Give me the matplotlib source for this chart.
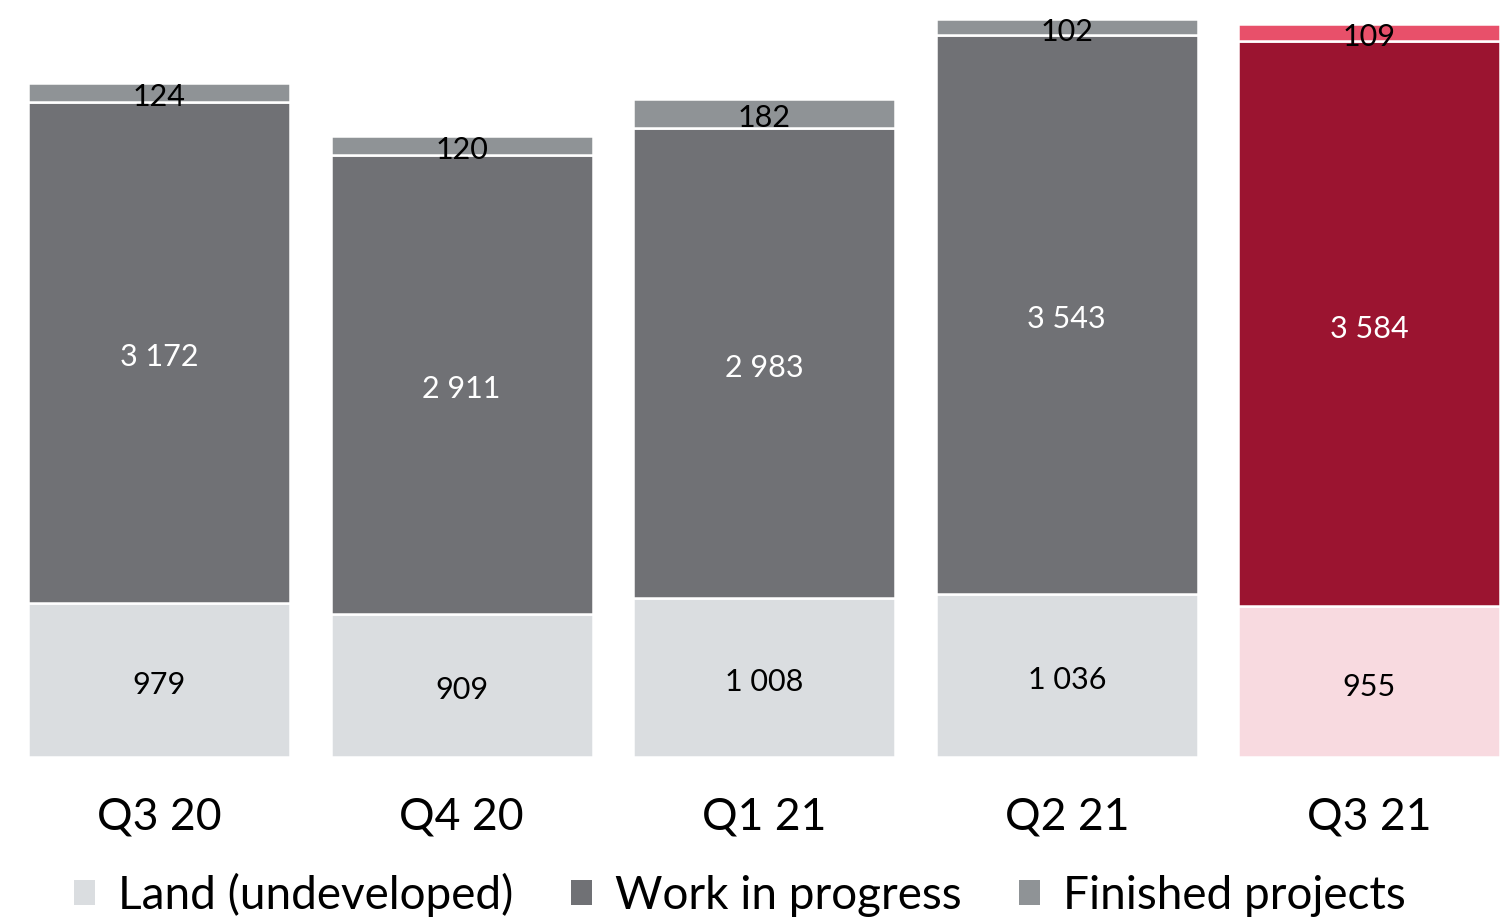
import matplotlib
matplotlib.use("Agg")
import matplotlib.pyplot as plt
from matplotlib.patches import Patch

plt.rcParams['font.family'] = ['Lato', 'DejaVu Sans']

quarters = ["Q3 20", "Q4 20", "Q1 21", "Q2 21", "Q3 21"]
land = [979, 909, 1008, 1036, 955]
work_in_progress = [3172, 2911, 2983, 3543, 3584]
finished = [124, 120, 182, 102, 109]

series_names = ["Land (undeveloped)", "Work in progress", "Finished projects"]
grey_colors = ["#DADDE0", "#707175", "#8F9396"]
red_colors = ["#F8DAE0", "#9B1430", "#E8506A"]
text_colors = ["black", "white", "black"]

W, H = 1510, 917
fig = plt.figure(figsize=(W / 100, H / 100), dpi=100)
ax = fig.add_axes([0, 1 - 757 / H, 1, 757 / H])

x = list(range(len(quarters)))
width = 0.866
layers = [land, work_in_progress, finished]
bottoms = [0] * len(quarters)
for li, values in enumerate(layers):
    colors = [grey_colors[li]] * (len(quarters) - 1) + [red_colors[li]]
    ax.bar(x, values, width, bottom=bottoms, color=colors,
           edgecolor="white", linewidth=1.8)
    for xi, v, b in zip(x, values, bottoms):
        label = f"{v:,}".replace(",", " ")
        ax.annotate(label, (xi, b + v / 2), xytext=(0, -3.5),
                    textcoords="offset points", ha="center", va="center",
                    fontsize=22, color=text_colors[li])
    bottoms = [b + v for b, v in zip(bottoms, values)]

ax.set_ylim(0, 4800)
ax.set_xlim(-159 / 302.6, (W - 159) / 302.6)
ax.set_xticks(x)
ax.set_xticklabels(quarters, fontsize=32)
ax.tick_params(axis="x", length=0, pad=28.5)
ax.set_yticks([])
for s in ax.spines.values():
    s.set_visible(False)

handles = [Patch(facecolor=c, edgecolor="none") for c in grey_colors]
fig.legend(handles, series_names, loc="center", bbox_to_anchor=(0.49, 1 - 895 / H),
           ncol=3, frameon=False, fontsize=33, handlelength=0.46, handleheight=0.46,
           handletextpad=0.5, columnspacing=1.25, borderaxespad=0, borderpad=0)

fig.savefig("out.png", dpi=100)
